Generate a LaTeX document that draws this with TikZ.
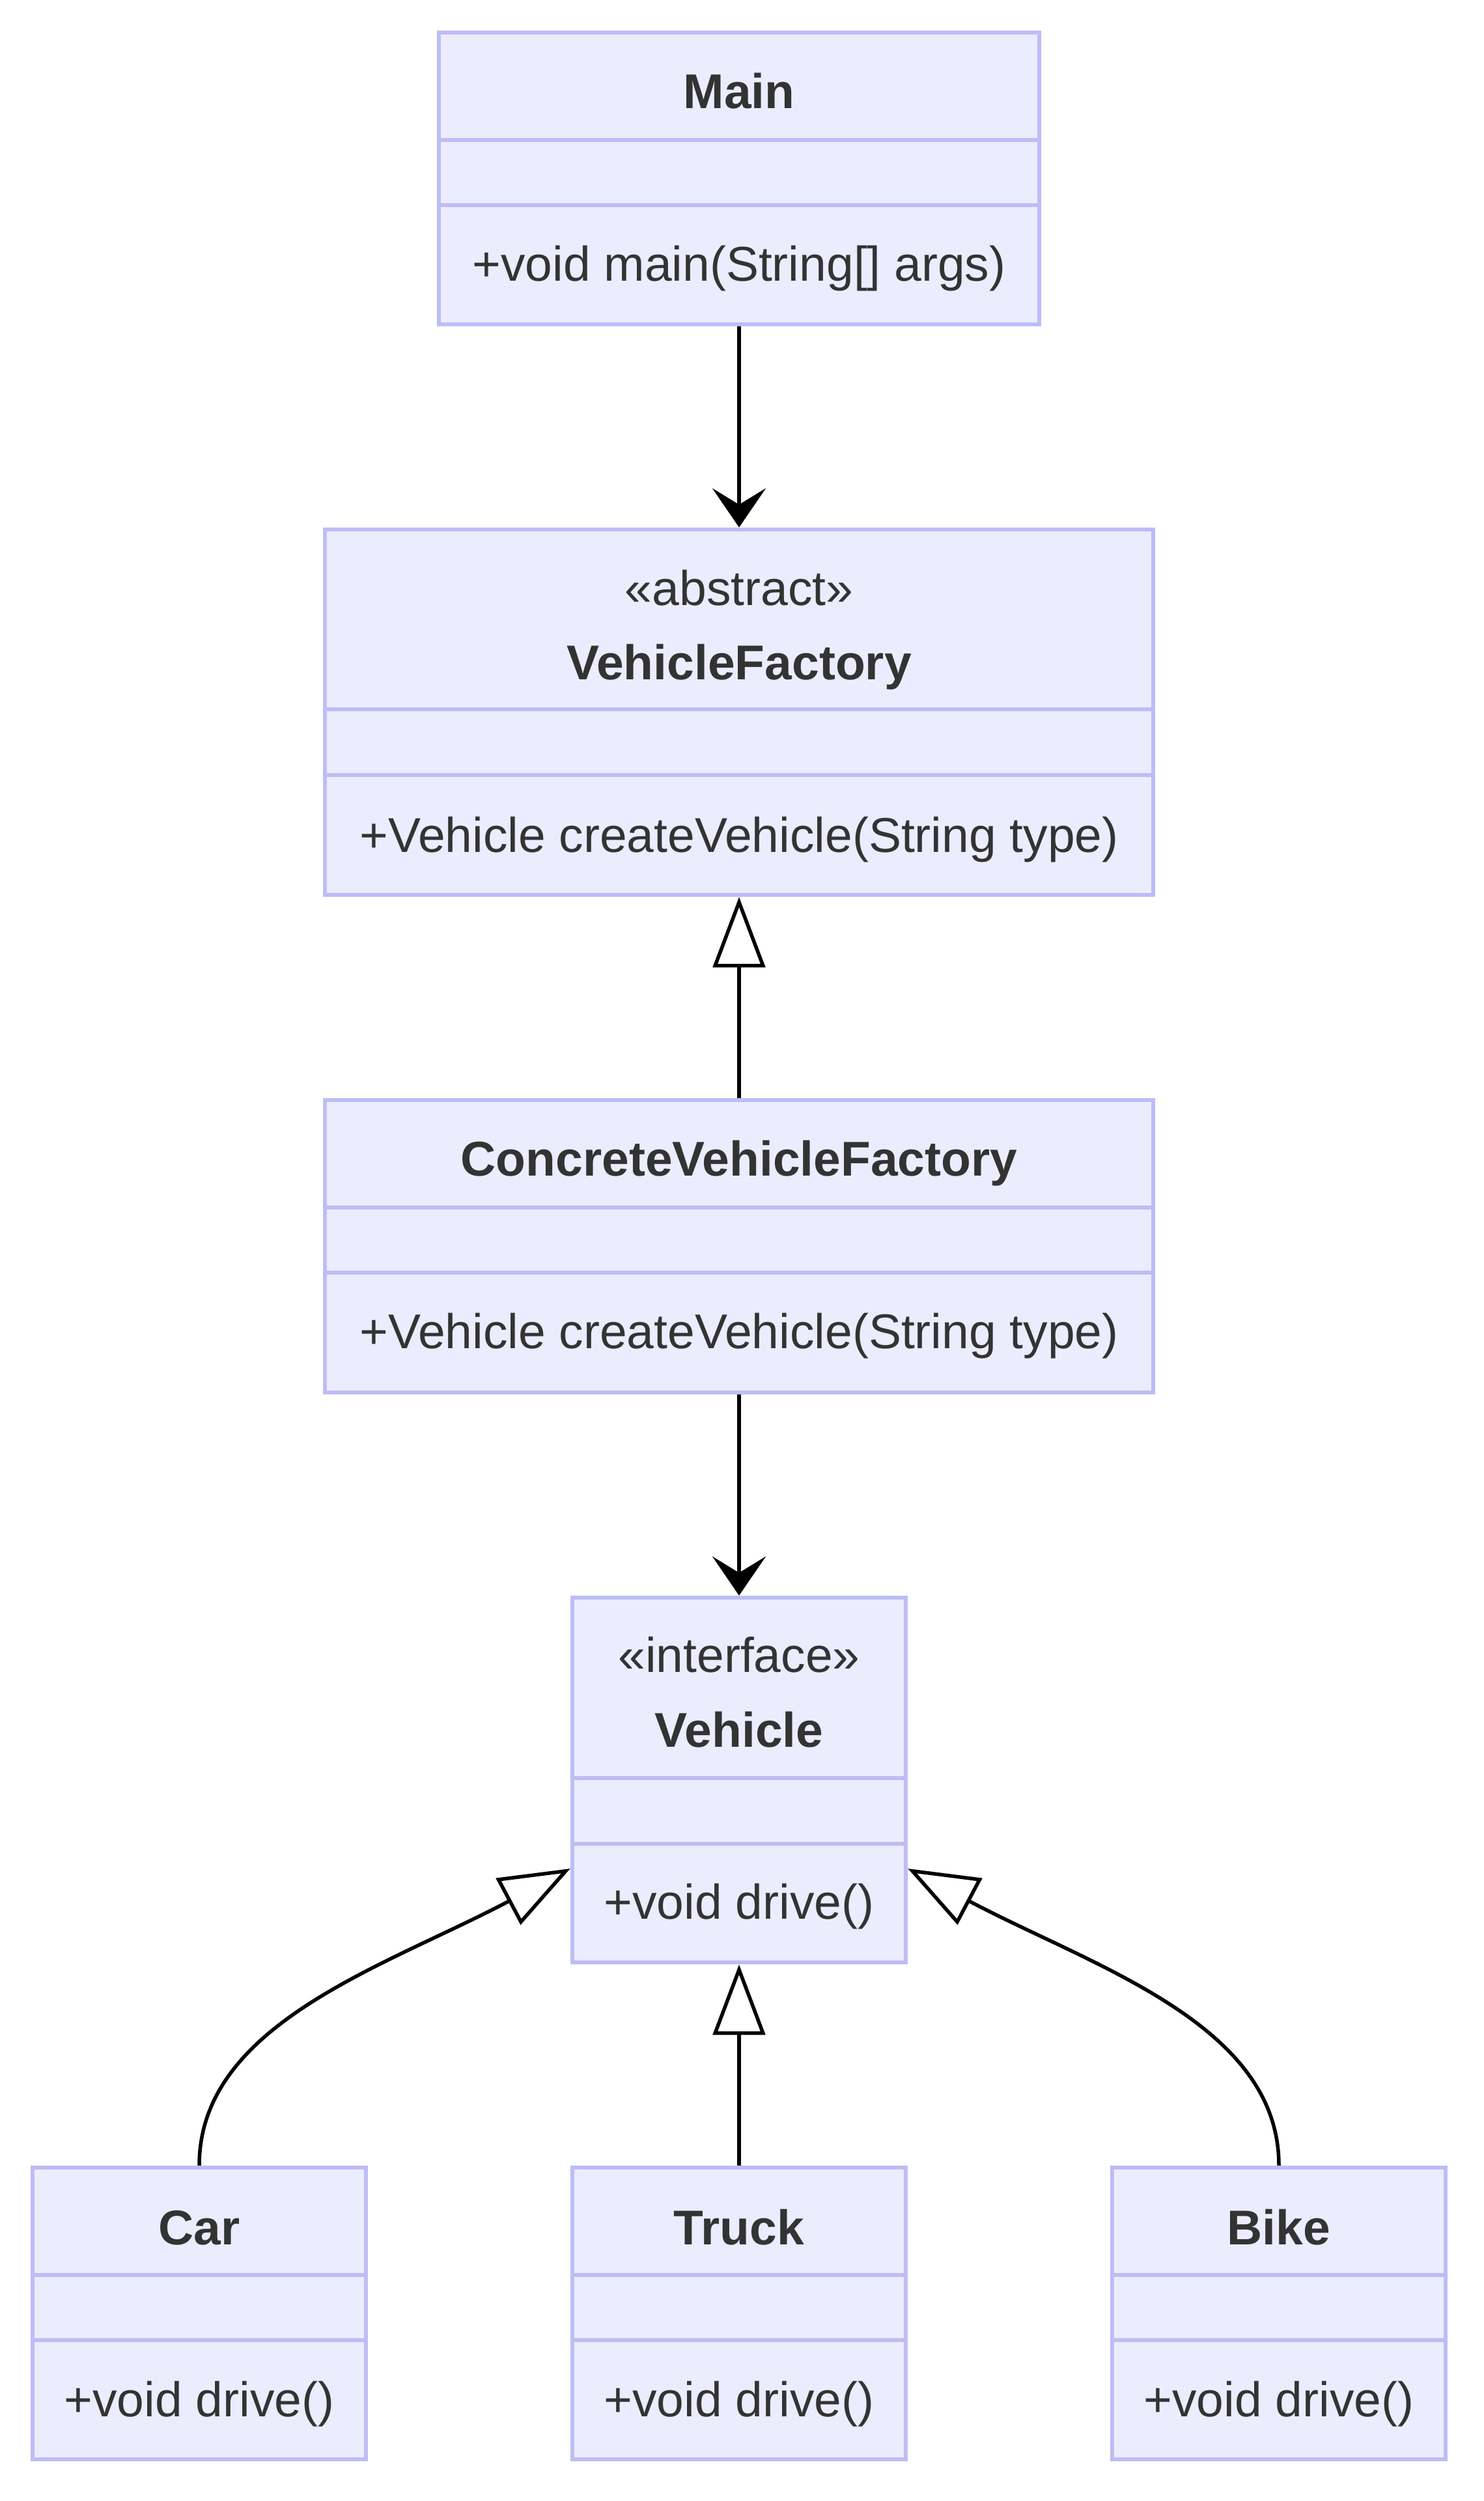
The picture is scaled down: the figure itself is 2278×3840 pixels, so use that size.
\documentclass[tikz,border=0pt]{standalone}
\usepackage{fontspec}
\setmainfont{Liberation Sans}
\usetikzlibrary{arrows.meta,calc}
\definecolor{boxfill}{HTML}{ECECFF}
\definecolor{boxline}{HTML}{BDBDF6}
\definecolor{txtcol}{HTML}{333333}
\begin{document}
\begin{tikzpicture}[x=1pt,y=-1pt,
  cls/.style={draw=boxline, fill=boxfill, line width=6.5pt, rectangle, inner sep=0pt},
  sepline/.style={draw=boxline, line width=6.5pt},
  lbl/.style={anchor=base, inner sep=0pt, text=txtcol, font=\fontsize{75}{90}\selectfont},
  ttl/.style={anchor=base, inner sep=0pt, text=txtcol, font=\fontsize{75}{90}\selectfont\bfseries},
  conn/.style={draw=black, line width=5.5pt},
  assoc/.style={conn, -{Stealth[length=60pt,width=82pt,inset=25pt]}},
  ext/.style={conn, -{Triangle[length=108pt,width=80pt,fill=white]}}
]
\useasboundingbox (0,0) rectangle (2278,3840);

% ---------- Main ----------
\node[cls, minimum width=922pt, minimum height=448pt] (main) at (1135,274) {};
\draw[sepline] (674,215) -- (1596,215);
\draw[sepline] (674,315) -- (1596,315);
\node[ttl] (mainT) at (1135,167) {Main};
\node[lbl] (mainM) at (1135,431) {+void main(String[] args)};

% ---------- VehicleFactory ----------
\node[cls, minimum width=1272pt, minimum height=561pt] (vf) at (1135,1093.5) {};
\draw[sepline] (499,1089) -- (1771,1089);
\draw[sepline] (499,1190) -- (1771,1190);
\node[lbl] (vfS) at (1135,929) {«abstract»};
\node[ttl] (vfT) at (1135,1043) {VehicleFactory};
\node[lbl] (vfM) at (1135,1308) {+Vehicle createVehicle(String type)};

% ---------- ConcreteVehicleFactory ----------
\node[cls, minimum width=1272pt, minimum height=449pt] (cvf) at (1135,1913.5) {};
\draw[sepline] (499,1854) -- (1771,1854);
\draw[sepline] (499,1954) -- (1771,1954);
\node[ttl] (cvfT) at (1135,1805) {ConcreteVehicleFactory};
\node[lbl] (cvfM) at (1135,2070) {+Vehicle createVehicle(String type)};

% ---------- Vehicle ----------
\node[cls, minimum width=512pt, minimum height=560pt] (veh) at (1135,2733) {};
\draw[sepline] (879,2730) -- (1391,2730);
\draw[sepline] (879,2831) -- (1391,2831);
\node[lbl] (vehS) at (1135,2567) {«interface»};
\node[ttl] (vehT) at (1135,2682) {Vehicle};
\node[lbl] (vehM) at (1135,2946) {+void drive()};

% ---------- Car ----------
\node[cls, minimum width=512pt, minimum height=448pt] (car) at (306,3552) {};
\draw[sepline] (50,3493) -- (562,3493);
\draw[sepline] (50,3593) -- (562,3593);
\node[ttl] (carT) at (306,3446) {Car};
\node[lbl] (carM) at (306,3710) {+void drive()};

% ---------- Truck ----------
\node[cls, minimum width=512pt, minimum height=448pt] (truck) at (1135,3552) {};
\draw[sepline] (879,3493) -- (1391,3493);
\draw[sepline] (879,3593) -- (1391,3593);
\node[ttl] (truckT) at (1135,3446) {Truck};
\node[lbl] (truckM) at (1135,3710) {+void drive()};

% ---------- Bike ----------
\node[cls, minimum width=512pt, minimum height=448pt] (bike) at (1964,3552) {};
\draw[sepline] (1708,3493) -- (2220,3493);
\draw[sepline] (1708,3593) -- (2220,3593);
\node[ttl] (bikeT) at (1964,3446) {Bike};
\node[lbl] (bikeM) at (1964,3710) {+void drive()};

% ---------- connectors ----------
\draw[assoc] (main) -- (vf);
\draw[ext] (cvf) -- (vf);
\draw[assoc] (cvf) -- (veh);
\draw[ext] (truck) -- (veh);
\coordinate (vl) at ($(veh.west)+(0,136)$);
\coordinate (vr) at ($(veh.east)+(0,136)$);
\draw[ext] (car.north) .. controls +(0,-218) and +(-283,150) .. (vl);
\draw[ext] (bike.north) .. controls +(0,-218) and +(283,150) .. (vr);
\end{tikzpicture}
\end{document}
